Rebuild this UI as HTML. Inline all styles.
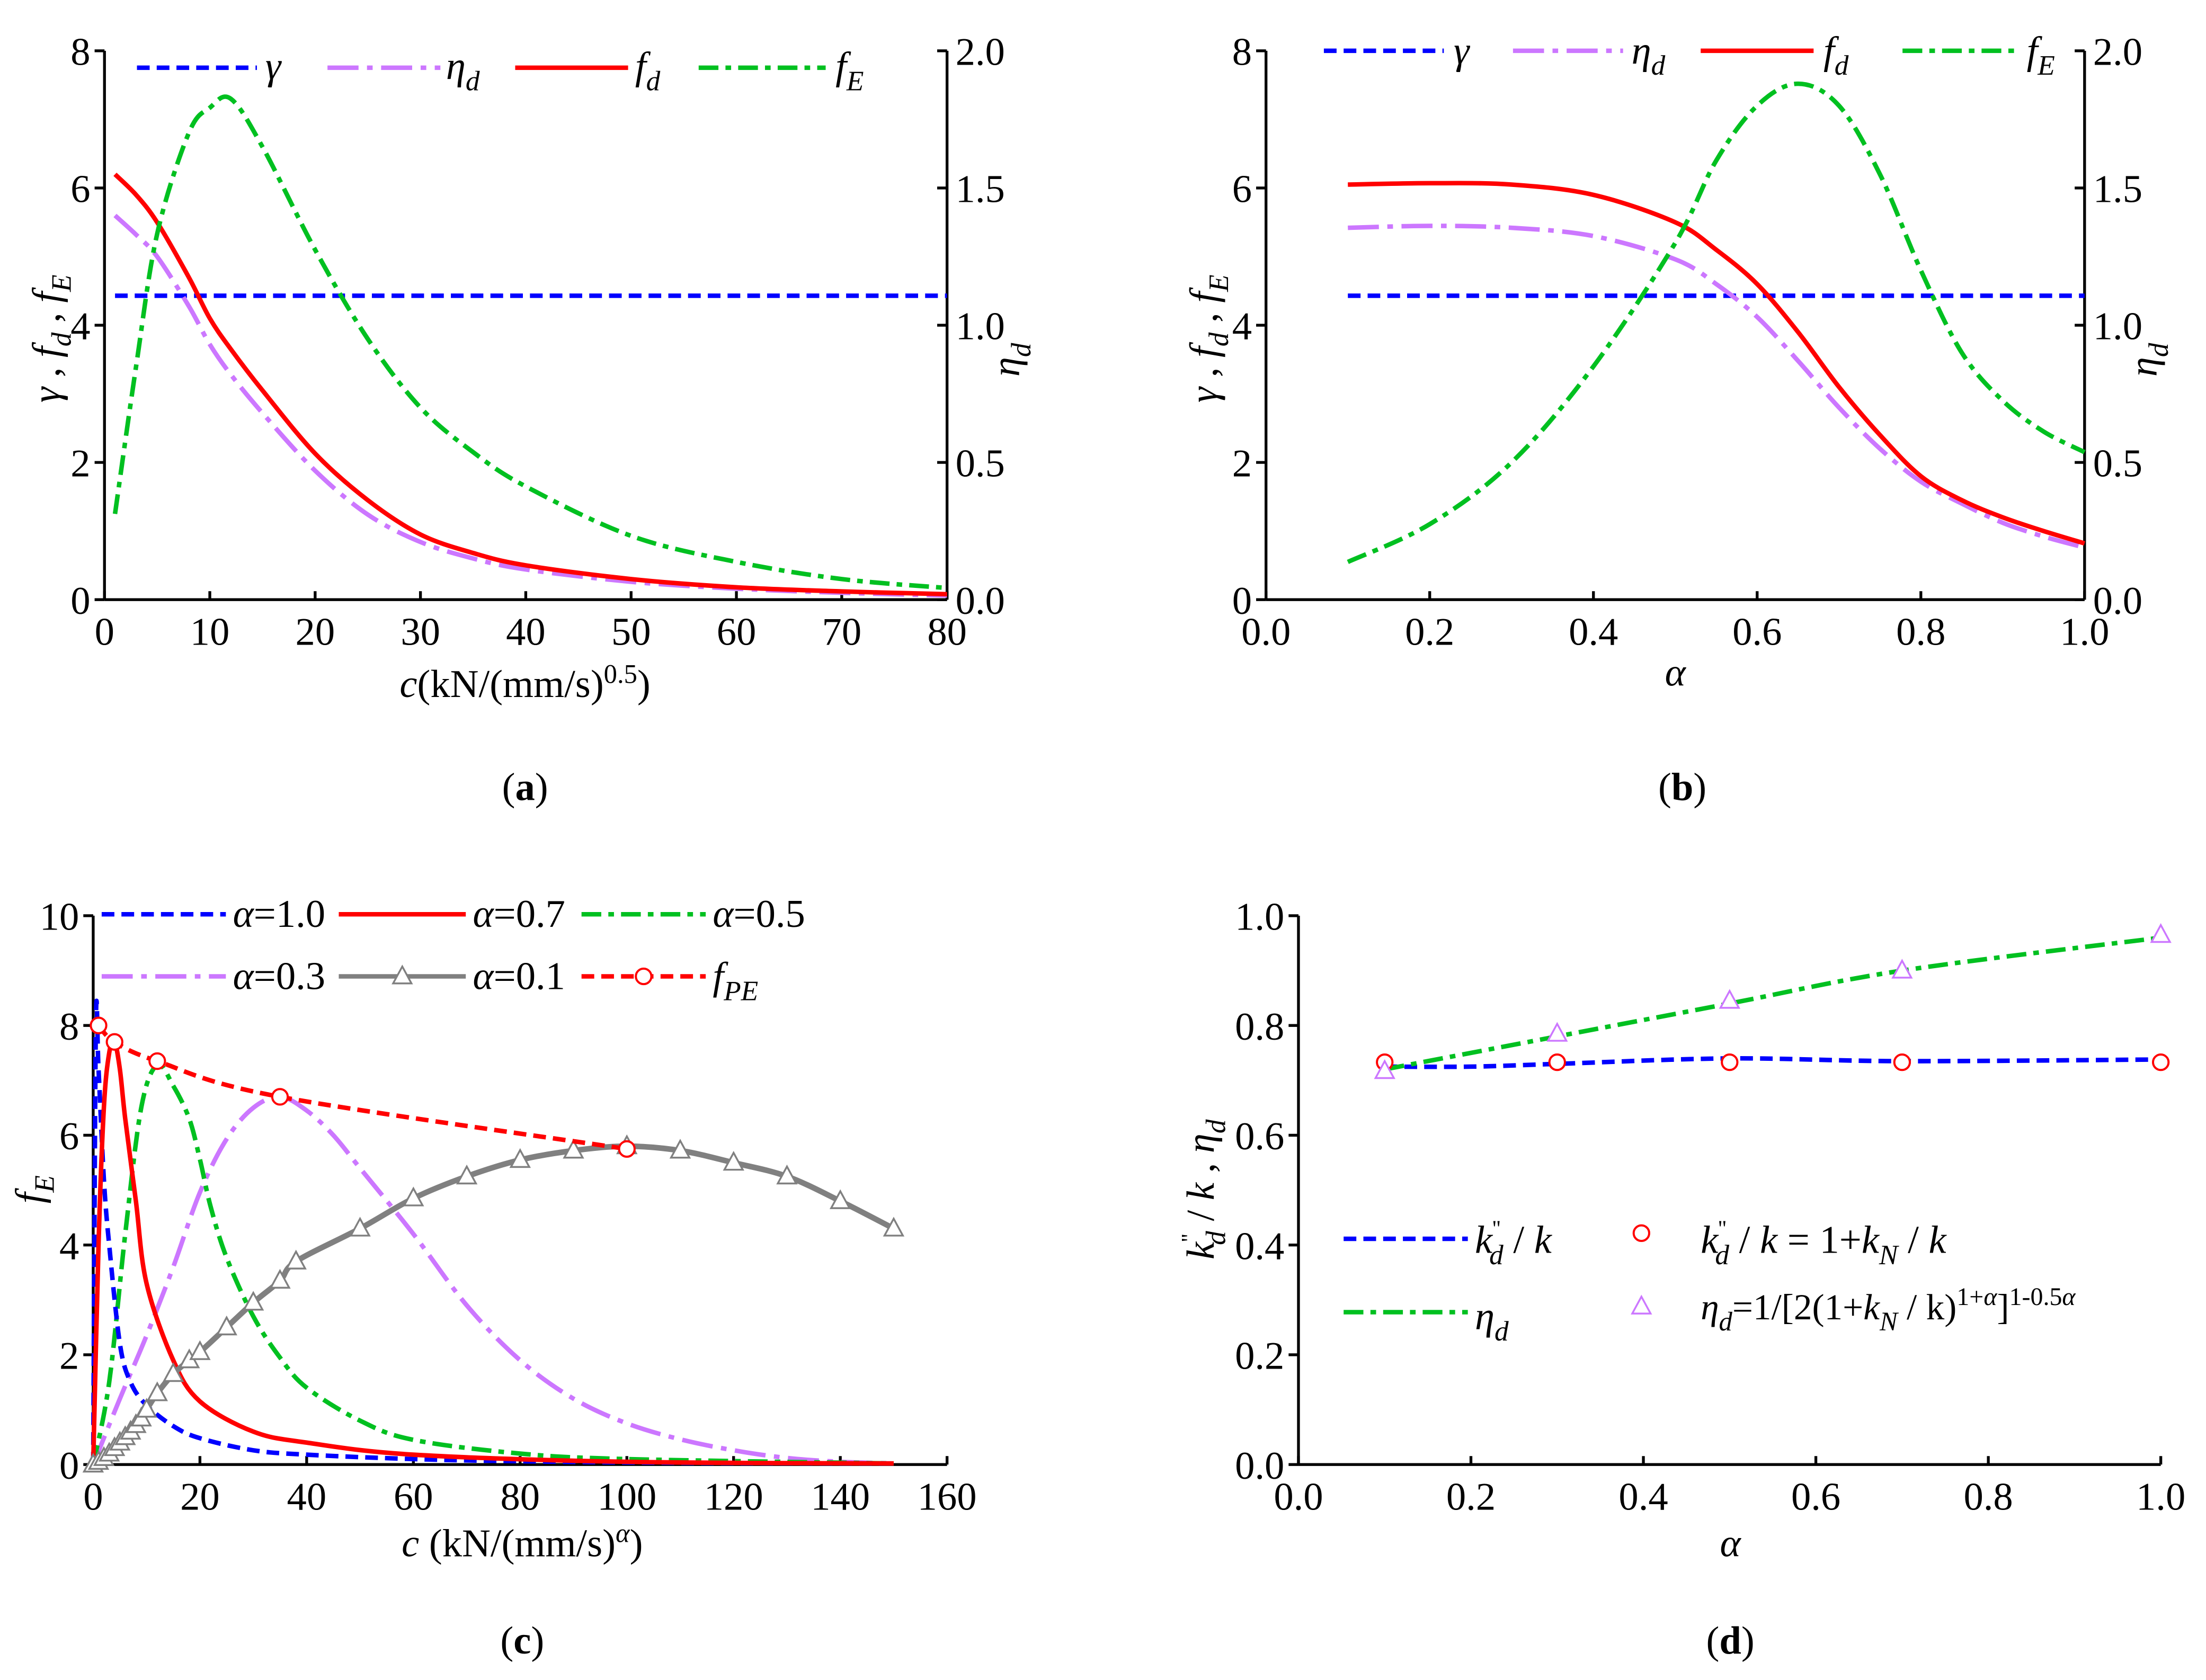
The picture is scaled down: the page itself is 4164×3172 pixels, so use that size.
<!DOCTYPE html>
<html><head><meta charset="utf-8"><style>
html,body{margin:0;padding:0;background:#fff;}
svg{display:block;}
text{font-family:"Liberation Serif",serif;fill:#000;}
</style></head><body>
<svg id="fig" xmlns="http://www.w3.org/2000/svg" width="4164" height="3172" viewBox="0 0 1563 1190.7">
<rect x="0" y="0" width="1563" height="1190.7" fill="#fff"/>
<g id="layer"></g>
</svg>
<script>
// ---------- Panel (a) data ----------
const aC = [1,3,5,8,10,12,15,20,25,30,35,40,50,60,70,80];
const aFd = [6.2,5.9,5.5,4.7,4.1,3.65,3.05,2.13,1.45,0.95,0.68,0.5,0.3,0.18,0.12,0.08];
const aEta = [1.40,1.33,1.25,1.07,0.93,0.82,0.68,0.47,0.31,0.21,0.15,0.11,0.065,0.04,0.025,0.015];
const aFE = [1.25,3.4,5.33,6.8,7.17,7.3,6.6,5.1,3.8,2.8,2.15,1.65,0.93,0.55,0.3,0.17];
const aGamma = 4.43;
// ---------- Panel (b) data ----------
const bA = [0.1,0.2,0.3,0.4,0.5,0.55,0.6,0.65,0.7,0.75,0.8,0.85,0.9,0.95,1.0];
const bFd = [6.05,6.07,6.05,5.9,5.5,5.1,4.6,3.9,3.1,2.4,1.8,1.45,1.2,1.0,0.82];
const bEta = [1.355,1.362,1.355,1.325,1.24,1.15,1.03,0.87,0.7,0.55,0.43,0.35,0.28,0.23,0.19];
const bFE = [0.55,1.1,2.0,3.4,5.2,6.4,7.2,7.52,7.2,6.2,4.8,3.6,2.9,2.45,2.15];
const bGamma = 4.43;
// ---------- Panel (c) data ----------
const c10x = [0,0.5,1,2,3,5,7,10,15,20,30,40,60,80,110,150];
const c10y = [0,8,7.2,5.2,4.0,2.2,1.5,1.08,0.7,0.48,0.26,0.18,0.1,0.06,0.03,0.02];
const c07x = [0,1,2,3,4,5,6,8,10,15,20,30,40,60,100,150];
const c07y = [0,4,6.5,7.5,7.7,7.2,6.3,4.8,3.3,1.9,1.15,0.6,0.4,0.18,0.05,0.02];
const c05x = [0,3,6,9,12,15,18,20,22,25,30,35,40,50,60,80,100,150];
const c05y = [0,1.5,4.2,6.5,7.28,6.9,6.3,5.56,4.7,3.77,2.7,1.95,1.4,0.8,0.45,0.2,0.1,0.02];
const c03x = [0,5,10,15,20,25,30,35,40,45,50,60,70,80,90,100,110,120,130,140,150];
const c03y = [0,1.2,2.35,3.6,4.96,5.93,6.5,6.7,6.45,6.0,5.4,4.2,2.9,1.9,1.2,0.75,0.46,0.26,0.12,0.05,0.02];
const c01x = [0,1,2,3,4,5,6,7,8,9,10,12,15,18,20,25,30,35,38,50,60,70,80,90,100,110,120,130,140,150];
const c01y = [0,0.05,0.12,0.2,0.3,0.4,0.5,0.6,0.72,0.84,1.0,1.3,1.65,1.9,2.05,2.5,2.95,3.35,3.7,4.3,4.85,5.25,5.55,5.72,5.8,5.72,5.5,5.25,4.8,4.3];
const cPEx = [1,4,12,35,100];
const cPEy = [8.0,7.7,7.35,6.7,5.75];
// ---------- Panel (d) data ----------
const dA = [0.1,0.2,0.3,0.5,0.7,1.0];
const dKd = [0.725,0.725,0.73,0.74,0.735,0.738];
const dEtaA = [0.1,0.3,0.5,0.7,1.0];
const dEta = [0.72,0.78,0.84,0.9,0.96];
const dCircA = [0.1,0.3,0.5,0.7,1.0];
const dCirc = [0.733,0.733,0.733,0.733,0.733];
const dTriA = [0.1,0.3,0.5,0.7,1.0];
const dTri = [0.717,0.785,0.845,0.9,0.965];

const NS='http://www.w3.org/2000/svg';
const layer=document.getElementById('layer');
function el(tag,attrs,parent){const e=document.createElementNS(NS,tag);for(const k in attrs)e.setAttribute(k,attrs[k]);(parent||layer).appendChild(e);return e;}
function lin(d0,d1,r0,r1){return v=>r0+(v-d0)/(d1-d0)*(r1-r0);}
function smooth(pts){
  if(pts.length<2)return '';
  let d='M'+pts[0][0].toFixed(2)+','+pts[0][1].toFixed(2);
  for(let i=0;i<pts.length-1;i++){
    const p0=pts[Math.max(0,i-1)],p1=pts[i],p2=pts[i+1],p3=pts[Math.min(pts.length-1,i+2)];
    const c1=[p1[0]+(p2[0]-p0[0])/6,p1[1]+(p2[1]-p0[1])/6];
    const c2=[p2[0]-(p3[0]-p1[0])/6,p2[1]-(p3[1]-p1[1])/6];
    d+='C'+c1[0].toFixed(2)+','+c1[1].toFixed(2)+' '+c2[0].toFixed(2)+','+c2[1].toFixed(2)+' '+p2[0].toFixed(2)+','+p2[1].toFixed(2);
  }
  return d;
}
const STY={
  blue:{stroke:'#0000ff','stroke-dasharray':'9,5'},
  purple:{stroke:'#cc77ff','stroke-dasharray':'22,6,4,6'},
  red:{stroke:'#ff0000'},
  green:{stroke:'#00c020','stroke-dasharray':'14,5,4,5'},
  gray:{stroke:'#808080'},
  reddash:{stroke:'#ff0000','stroke-dasharray':'9,5'}
};
function curve(g,xs,ys,sx,sy,sty,name){
  const pts=xs.map((x,i)=>[sx(x),sy(ys[i])]);
  const p=el('path',Object.assign({d:smooth(pts),fill:'none','stroke-width':3.2},sty),g);
  
  
  return p;
}
function txt(g,x,y,s,opt){const t=el('text',Object.assign({x:x,y:y,'font-size':28},opt||{}),g);t.innerHTML=s;return t;}
function circle(g,x,y,name){const c=el('circle',{cx:x,cy:y,r:5.5,fill:'#fff',stroke:'#ff0000','stroke-width':1.5},g);}
function tri(g,x,y,col,name){const p=el('path',{d:`M${x},${y-7}L${x+6.5},${y+5}L${x-6.5},${y+5}Z`,fill:'#fff',stroke:col,'stroke-width':1.3},g);}

function axes(g,x0,x1,y0,y1,xt,xl,sx,yt,yl,sy,right){
  el('line',{x1:x0,y1:y1,x2:x0,y2:y0,stroke:'#000','stroke-width':2},g);
  el('line',{x1:x0,y1:y0,x2:x1,y2:y0,stroke:'#000','stroke-width':2},g);
  xt.forEach((v,i)=>{const x=sx(v);el('line',{x1:x,y1:y0,x2:x,y2:y0-6,stroke:'#000','stroke-width':2},g);
    const t=txt(g,x,y0+32,xl[i],{'text-anchor':'middle'});});
  yt.forEach((v,i)=>{const y=sy(v);el('line',{x1:x0,y1:y,x2:x0-7,y2:y,stroke:'#000','stroke-width':2},g);
    const t=txt(g,x0-10,y+10,yl[i],{'text-anchor':'end'});});
  if(right){
    el('line',{x1:x1,y1:y1,x2:x1,y2:y0,stroke:'#000','stroke-width':2},g);
    right.t.forEach((v,i)=>{const y=right.s(v);el('line',{x1:x1,y1:y,x2:x1-7,y2:y,stroke:'#000','stroke-width':2},g);
      const t=txt(g,x1+6,y+10,right.l[i]);});
  }
}
function legLine(g,x1,x2,y,sty,name){const l=el('line',Object.assign({x1:x1,y1:y,x2:x2,y2:y,'stroke-width':3.2},sty),g);}

// ===== Panel (a) =====
(function(){
  const g=el('g',{});
  const sx=lin(0,80,74,671), sy=lin(0,8,425,36), sy2=lin(0,2,425,36);
  axes(g,74,671,425,36,[0,10,20,30,40,50,60,70,80],['0','10','20','30','40','50','60','70','80'],sx,[0,2,4,6,8],['0','2','4','6','8'],sy,{t:[0,0.5,1,1.5,2],l:['0.0','0.5','1.0','1.5','2.0'],s:sy2});
  curve(g,[1,80],[aGamma,aGamma],sx,sy,STY.blue,'gamma-line');
  curve(g,aC,aEta,sx,sy2,STY.purple,'eta-d-line');
  curve(g,aC,aFd,sx,sy,STY.red,'fd-line');
  curve(g,aC,aFE,sx,sy,STY.green,'fe-line');
  legLine(g,97,182,48,STY.blue,'legend-gamma');txt(g,188,56,'<tspan font-style="italic">γ</tspan>');
  legLine(g,232,312,48,STY.purple,'legend-eta');txt(g,316,56,'<tspan font-style="italic">η</tspan><tspan font-style="italic" font-size="20" dy="8">d</tspan>');
  legLine(g,365,445,48,STY.red,'legend-fd');txt(g,450,56,'<tspan font-style="italic">f</tspan><tspan font-style="italic" font-size="20" dy="8">d</tspan>');
  legLine(g,495,585,48,STY.green,'legend-fe');txt(g,592,56,'<tspan font-style="italic">f</tspan><tspan font-style="italic" font-size="20" dy="8">E</tspan>');
  const yl=txt(g,0,0,'<tspan font-style="italic">γ</tspan> , <tspan font-style="italic">f</tspan><tspan font-style="italic" font-size="20" dy="8">d</tspan><tspan dy="-8"> , </tspan><tspan font-style="italic">f</tspan><tspan font-style="italic" font-size="20" dy="8">E</tspan>',{transform:'translate(42,240) rotate(-90)','text-anchor':'middle'});
  const yr=txt(g,0,0,'<tspan font-style="italic">η</tspan><tspan font-style="italic" font-size="20" dy="8">d</tspan>',{transform:'translate(722,255) rotate(-90)','text-anchor':'middle'});
  const xl=txt(g,372,494,'<tspan font-style="italic">c</tspan>(kN/(mm/s)<tspan font-size="19" dy="-10">0.5</tspan><tspan dy="10">)</tspan>',{'text-anchor':'middle'});
  const cp=txt(g,372,567,'(<tspan font-weight="bold">a</tspan>)',{'text-anchor':'middle'});
})();

// ===== Panel (b) =====
(function(){
  const g=el('g',{});
  const sx=lin(0,1,897,1477), sy=lin(0,8,425,36), sy2=lin(0,2,425,36);
  axes(g,897,1477,425,36,[0,0.2,0.4,0.6,0.8,1.0],['0.0','0.2','0.4','0.6','0.8','1.0'],sx,[0,2,4,6,8],['0','2','4','6','8'],sy,{t:[0,0.5,1,1.5,2],l:['0.0','0.5','1.0','1.5','2.0'],s:sy2});
  curve(g,[0.1,1.0],[bGamma,bGamma],sx,sy,STY.blue,'gamma-line');
  curve(g,bA,bEta,sx,sy2,STY.purple,'eta-d-line');
  curve(g,bA,bFd,sx,sy,STY.red,'fd-line');
  curve(g,bA,bFE,sx,sy,STY.green,'fe-line');
  legLine(g,938,1023,36,STY.blue,'legend-gamma');txt(g,1030,45,'<tspan font-style="italic">γ</tspan>');
  legLine(g,1072,1150,36,STY.purple,'legend-eta');txt(g,1156,45,'<tspan font-style="italic">η</tspan><tspan font-style="italic" font-size="20" dy="8">d</tspan>');
  legLine(g,1205,1285,36,STY.red,'legend-fd');txt(g,1292,45,'<tspan font-style="italic">f</tspan><tspan font-style="italic" font-size="20" dy="8">d</tspan>');
  legLine(g,1348,1430,36,STY.green,'legend-fe');txt(g,1436,45,'<tspan font-style="italic">f</tspan><tspan font-style="italic" font-size="20" dy="8">E</tspan>');
  const yl=txt(g,0,0,'<tspan font-style="italic">γ</tspan> , <tspan font-style="italic">f</tspan><tspan font-style="italic" font-size="20" dy="8">d</tspan><tspan dy="-8"> , </tspan><tspan font-style="italic">f</tspan><tspan font-style="italic" font-size="20" dy="8">E</tspan>',{transform:'translate(862,240) rotate(-90)','text-anchor':'middle'});
  const yr=txt(g,0,0,'<tspan font-style="italic">η</tspan><tspan font-style="italic" font-size="20" dy="8">d</tspan>',{transform:'translate(1528,255) rotate(-90)','text-anchor':'middle'});
  const xl=txt(g,1187,486,'<tspan font-style="italic">α</tspan>',{'text-anchor':'middle'});
  const cp=txt(g,1192,567,'(<tspan font-weight="bold">b</tspan>)',{'text-anchor':'middle'});
})();

// ===== Panel (c) =====
(function(){
  const g=el('g',{});
  const sx=lin(0,160,66,671), sy=lin(0,10,1038,649);
  axes(g,66,671,1038,649,[0,20,40,60,80,100,120,140,160],['0','20','40','60','80','100','120','140','160'],sx,[0,2,4,6,8,10],['0','2','4','6','8','10'],sy,null);
  curve(g,c03x,c03y,sx,sy,STY.purple,'alpha-0.3-line');
  curve(g,c05x,c05y,sx,sy,STY.green,'alpha-0.5-line');
  curve(g,c10x,c10y,sx,sy,STY.blue,'alpha-1.0-line');
  curve(g,c07x,c07y,sx,sy,STY.red,'alpha-0.7-line');
  const gl=curve(g,c01x,c01y,sx,sy,STY.gray,'alpha-0.1-line');gl.setAttribute('stroke-width','4');
  c01x.forEach((x,i)=>{tri(g,sx(x),sy(c01y[i]),'#808080','alpha-0.1-marker');});
  curve(g,cPEx,cPEy,sx,sy,STY.reddash,'fpe-line');
  cPEx.forEach((x,i)=>{circle(g,sx(x),sy(cPEy[i]),'fpe-marker');});
  legLine(g,72,160,648,STY.blue,'legend-alpha-1.0');txt(g,165,657,'<tspan font-style="italic">α</tspan>=1.0');
  legLine(g,240,330,648,STY.red,'legend-alpha-0.7');txt(g,335,657,'<tspan font-style="italic">α</tspan>=0.7');
  legLine(g,412,500,648,STY.green,'legend-alpha-0.5');txt(g,505,657,'<tspan font-style="italic">α</tspan>=0.5');
  legLine(g,72,160,692,STY.purple,'legend-alpha-0.3');txt(g,165,701,'<tspan font-style="italic">α</tspan>=0.3');
  legLine(g,240,330,692,STY.gray,'legend-alpha-0.1');tri(g,285,692,'#808080','legend-alpha-0.1-marker');txt(g,335,701,'<tspan font-style="italic">α</tspan>=0.1');
  legLine(g,412,500,692,STY.reddash,'legend-fpe');circle(g,456,692,'legend-fpe-marker');txt(g,505,701,'<tspan font-style="italic">f</tspan><tspan font-style="italic" font-size="20" dy="8">PE</tspan>');
  const yl=txt(g,0,0,'<tspan font-style="italic">f</tspan><tspan font-style="italic" font-size="20" dy="8">E</tspan>',{transform:'translate(30,843) rotate(-90)','text-anchor':'middle'});
  const xl=txt(g,370,1103,'<tspan font-style="italic">c</tspan> (kN/(mm/s)<tspan font-style="italic" font-size="19" dy="-10">α</tspan><tspan dy="10">)</tspan>',{'text-anchor':'middle'});
  const cp=txt(g,370,1172,'(<tspan font-weight="bold">c</tspan>)',{'text-anchor':'middle'});
})();

// ===== Panel (d) =====
(function(){
  const g=el('g',{});
  const sx=lin(0,1,920,1531), sy=lin(0,1,1038,649);
  axes(g,920,1531,1038,649,[0,0.2,0.4,0.6,0.8,1.0],['0.0','0.2','0.4','0.6','0.8','1.0'],sx,[0,0.2,0.4,0.6,0.8,1.0],['0.0','0.2','0.4','0.6','0.8','1.0'],sy,null);
  curve(g,dA,dKd,sx,sy,STY.blue,'kd-line');
  curve(g,dEtaA,dEta,sx,sy,STY.green,'eta-d-line');
  dCircA.forEach((a,i)=>{circle(g,sx(a),sy(dCirc[i]),'kd-formula-marker');});
  dTriA.forEach((a,i)=>{tri(g,sx(a),sy(dTri[i]),'#cc77ff','eta-formula-marker');});
  legLine(g,952,1040,878,STY.blue,'legend-kd');
  txt(g,1045,888,'<tspan font-style="italic">k</tspan><tspan font-size="16" dy="-12">\'\'</tspan><tspan font-style="italic" font-size="20" dy="20" dx="-8">d</tspan><tspan dy="-8"> / </tspan><tspan font-style="italic">k</tspan>');
  circle(g,1163,874,'legend-kd-formula-marker');
  txt(g,1205,888,'<tspan font-style="italic">k</tspan><tspan font-size="16" dy="-12">\'\'</tspan><tspan font-style="italic" font-size="20" dy="20" dx="-8">d</tspan><tspan dy="-8"> / </tspan><tspan font-style="italic">k</tspan> = 1+<tspan font-style="italic">k</tspan><tspan font-style="italic" font-size="20" dy="8">N</tspan><tspan dy="-8"> / </tspan><tspan font-style="italic">k</tspan>');
  legLine(g,952,1040,930,STY.green,'legend-eta');
  txt(g,1045,942,'<tspan font-style="italic">η</tspan><tspan font-style="italic" font-size="20" dy="8">d</tspan>');
  tri(g,1163,926,'#cc77ff','legend-eta-formula-marker');
  txt(g,1205,935,'<tspan font-style="italic">η</tspan><tspan font-style="italic" font-size="19" dy="8">d</tspan><tspan dy="-8">=1/[2(1+</tspan><tspan font-style="italic">k</tspan><tspan font-style="italic" font-size="19" dy="8">N</tspan><tspan dy="-8"> / k)</tspan><tspan font-size="18" dy="-10">1+<tspan font-style="italic">α</tspan></tspan><tspan dy="10">]</tspan><tspan font-size="18" dy="-10">1-0.5<tspan font-style="italic">α</tspan></tspan>',{'font-size':26});
  const yl=txt(g,0,0,'<tspan font-style="italic">k</tspan><tspan font-size="16" dy="-12">\'\'</tspan><tspan font-style="italic" font-size="20" dy="20" dx="-8">d</tspan><tspan dy="-8"> / </tspan><tspan font-style="italic">k</tspan> , <tspan font-style="italic">η</tspan><tspan font-style="italic" font-size="20" dy="8">d</tspan>',{transform:'translate(860,843) rotate(-90)','text-anchor':'middle'});
  const xl=txt(g,1226,1103,'<tspan font-style="italic">α</tspan>',{'text-anchor':'middle'});
  const cp=txt(g,1226,1172,'(<tspan font-weight="bold">d</tspan>)',{'text-anchor':'middle'});
})();
</script>
</body></html>
